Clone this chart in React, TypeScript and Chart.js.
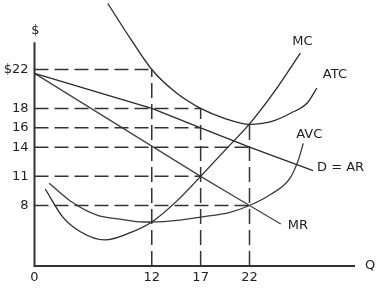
import React, { useEffect, useRef } from "react";
import { Chart, registerables } from "chart.js";

Chart.register(...registerables);

// ---- data (quantity Q, price $) ----
const quantityTicks = [0, 12, 17, 22];
const priceTicks = [8, 11, 14, 16, 18, 22];

const mcQ = [1.1, 2.9, 4.7, 7.2, 9.8, 12, 14.5, 17, 19.5, 22, 24.6, 27.2];
const mcP = [9.7, 6.8, 5.3, 4.45, 5.2, 6.3, 8.4, 11, 13.7, 16.4, 19.8, 23.7];

const atcQ = [7.5, 9.8, 12, 14.5, 17, 19.5, 22, 24.1, 26.2, 27.9, 28.9];
const atcP = [28.8, 25.2, 22, 19.6, 18, 16.95, 16.35, 16.6, 17.5, 18.55, 20.1];

const avcQ = [1.5, 3.9, 6.4, 8.75, 11.1, 12, 14.9, 17, 20, 22, 24.1, 26.2, 27, 27.5];
const avcP = [10.3, 8.3, 7.0, 6.6, 6.3, 6.3, 6.5, 6.8, 7.3, 8, 9.1, 10.9, 12.7, 14.4];

const demandQ = [0, 12, 17, 22, 28.5];
const demandP = [21.6, 18, 16, 14, 11.6];

const mrQ = [0, 17, 22, 25.2];
const mrP = [21.6, 11, 8, 6.1];

// dashed guide lines
const guidePrices = [22, 18, 16, 14, 11, 8];
const guidePriceEndQ = [12, 17, 17, 22, 17, 22];
const guideQuantities = [12, 17, 22];
const guideQuantityTopP = [22, 18, 16.35];

// axis extents
const priceMin = 1.77;
const priceMax = 29.16;
const priceAxisTop = 24.8;
const quantityMax = 33;

const FONT = '"DejaVu Sans", sans-serif';
const INK = "#222";

const zip = (qs: number[], ps: number[]) => qs.map((q, i) => ({ x: q, y: ps[i] }));

const labelOffsets: Record<string, { dx: number; dy: number; align: CanvasTextAlign }> = {
  MC: { dx: 2, dy: -11, align: "center" },
  ATC: { dx: 18, dy: -13, align: "center" },
  AVC: { dx: 6, dy: -9, align: "center" },
  "D = AR": { dx: 4, dy: -3, align: "left" },
  MR: { dx: 7, dy: 2, align: "left" },
};

const econPlugin = {
  id: "econ",
  beforeDatasetsDraw(chart: any) {
    const { ctx, scales } = chart;
    const x = scales.x;
    const y = scales.y;
    const x0 = x.getPixelForValue(0);
    const y0 = y.getPixelForValue(priceMin);
    const yTop = y.getPixelForValue(priceAxisTop);
    const xEnd = x.getPixelForValue(quantityMax) - 2;
    ctx.save();
    ctx.strokeStyle = "#333";
    ctx.lineWidth = 2;
    ctx.beginPath();
    ctx.moveTo(x0, yTop);
    ctx.lineTo(x0, y0);
    ctx.lineTo(xEnd, y0);
    ctx.stroke();
    ctx.fillStyle = INK;
    ctx.font = `13px ${FONT}`;
    ctx.textAlign = "center";
    ctx.textBaseline = "middle";
    ctx.fillText("$", x0 + 1, yTop - 12);
    ctx.fillText("Q", xEnd + 15, y0);
    ctx.restore();
  },
  afterDatasetsDraw(chart: any) {
    const { ctx } = chart;
    ctx.save();
    ctx.fillStyle = INK;
    ctx.font = `13px ${FONT}`;
    ctx.textBaseline = "middle";
    chart.data.datasets.forEach((ds: any, i: number) => {
      const off = labelOffsets[ds.label];
      if (!off) return;
      const meta = chart.getDatasetMeta(i);
      const pt = meta.data[meta.data.length - 1];
      ctx.textAlign = off.align;
      ctx.fillText(ds.label, pt.x + off.dx, pt.y + off.dy);
    });
    ctx.restore();
  },
};

export default function App() {
  const ref = useRef<HTMLCanvasElement>(null);

  useEffect(() => {
    const canvas = ref.current;
    if (!canvas) return;

    const guideStyle = {
      borderColor: "#333",
      borderWidth: 1.5,
      borderDash: [14, 6],
      pointRadius: 0,
      tension: 0,
      fill: false,
    };

    const guides: any[] = [];
    guidePrices.forEach((p, i) => {
      guides.push({
        label: `guide-p-${p}`,
        data: [
          { x: 0, y: p },
          { x: guidePriceEndQ[i], y: p },
        ],
        ...guideStyle,
      });
    });
    guideQuantities.forEach((q, i) => {
      guides.push({
        label: `guide-q-${q}`,
        data: [
          { x: q, y: priceMin },
          { x: q, y: guideQuantityTopP[i] },
        ],
        ...guideStyle,
        borderDash: [15, 6],
      });
    });

    const curve = (label: string, qs: number[], ps: number[], smooth: boolean, color = "#2a2a2a") => ({
      label,
      data: zip(qs, ps),
      borderColor: color,
      borderWidth: 1.3,
      pointRadius: 0,
      fill: false,
      tension: smooth ? 0.4 : 0,
      cubicInterpolationMode: smooth ? "monotone" : "default",
      clip: false,
    });

    const chart = new Chart(canvas, {
      type: "line",
      data: {
        datasets: [
          ...guides,
          curve("D = AR", demandQ, demandP, false),
          curve("MR", mrQ, mrP, false, "#444"),
          curve("AVC", avcQ, avcP, true, "#3a3a3a"),
          curve("ATC", atcQ, atcP, true),
          curve("MC", mcQ, mcP, true),
        ],
      },
      options: {
        responsive: false,
        animation: false,
        devicePixelRatio: 1,
        layout: { padding: { left: 0, right: 31, top: 0, bottom: 0 } },
        plugins: {
          legend: { display: false },
          tooltip: { enabled: false },
        },
        scales: {
          x: {
            type: "linear",
            min: 0,
            max: quantityMax,
            grid: { display: false, drawTicks: false },
            border: { display: false },
            afterBuildTicks: (s: any) => {
              s.ticks = quantityTicks.map((v) => ({ value: v }));
            },
            afterFit: (s: any) => {
              s.height = 23;
              s.paddingLeft = 0;
              s.paddingRight = 0;
            },
            ticks: {
              autoSkip: false,
              maxRotation: 0,
              padding: 4,
              color: INK,
              font: { family: FONT, size: 13 },
              callback: (v: any) => String(v),
            },
          },
          y: {
            type: "linear",
            min: priceMin,
            max: priceMax,
            grid: { display: false, drawTicks: false },
            border: { display: false },
            afterBuildTicks: (s: any) => {
              s.ticks = priceTicks.map((v) => ({ value: v }));
            },
            afterFit: (s: any) => {
              s.width = 34.5;
              s.paddingTop = 0;
              s.paddingBottom = 0;
            },
            ticks: {
              autoSkip: false,
              padding: 6,
              color: INK,
              font: { family: FONT, size: 13 },
              callback: (v: any) => (v === 22 ? "$22" : String(v)),
            },
          },
        },
      },
      plugins: [econPlugin],
    } as any);

    return () => chart.destroy();
  }, []);

  return (
    <div style={{ position: "absolute", left: 0, top: 0, width: 388, height: 289, background: "#fff" }}>
      <canvas ref={ref} width={388} height={289} style={{ display: "block" }} />
    </div>
  );
}
